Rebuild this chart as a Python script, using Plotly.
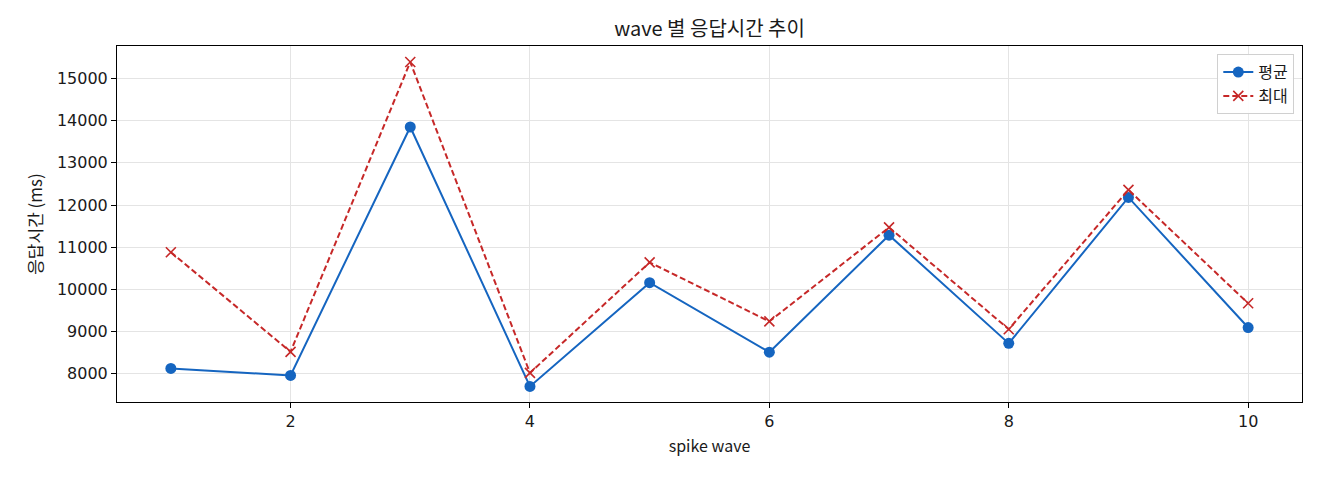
import plotly.graph_objects as go

waves = [1, 2, 3, 4, 5, 6, 7, 8, 9, 10]
avg_ms = [8125, 7960, 13850, 7700, 10160, 8510, 11285, 8720, 12180, 9095]
max_ms = [10880, 8520, 15390, 8020, 10640, 9240, 11470, 9055, 12360, 9670]

KR = "Noto Sans CJK KR"
NUM = "DejaVu Sans"

fig = go.Figure()

fig.add_trace(go.Scatter(
    x=waves, y=avg_ms, mode="lines+markers", name="평균",
    line=dict(color="#1565C0", width=2),
    marker=dict(symbol="circle", size=11, color="#1565C0"),
))
fig.add_trace(go.Scatter(
    x=waves, y=max_ms, mode="lines+markers", name="최대",
    line=dict(color="#C62828", width=2, dash="6px,3px"),
    marker=dict(symbol="x-thin", size=10, line=dict(color="#C62828", width=1.6)),
))

axis = dict(
    showline=True, linecolor="black", linewidth=1, mirror=True,
    ticks="outside", ticklen=5, tickcolor="black",
    showgrid=True, gridcolor="#e4e4e4", gridwidth=1,
    zeroline=False, tickfont=dict(family=NUM, size=16, color="#1a1a1a"),
)

# the page body adds ~8px offset, so margins are shifted to compensate
fig.update_layout(
    width=1320, height=480,
    paper_bgcolor="white", plot_bgcolor="white",
    font=dict(family=KR, color="#1a1a1a"),
    margin=dict(l=109, r=26, t=38, b=86),
    title=dict(text="wave 별 응답시간 추이", x=0.5, xref="paper", xanchor="center",
               y=1 - 21 / 480, yref="container", yanchor="middle",
               font=dict(size=20, color="#1a1a1a")),
    xaxis=dict(axis, range=[0.55, 10.45], tickvals=[2, 4, 6, 8, 10],
               title=dict(text="spike wave", font=dict(size=16), standoff=10)),
    yaxis=dict(axis, range=[7330, 15770], dtick=1000, tickformat="d",
               title=dict(text="응답시간 (ms)", font=dict(size=17), standoff=9)),
    legend=dict(x=0.9935, y=0.977, xanchor="right", yanchor="top",
                bgcolor="rgba(255,255,255,0.9)", bordercolor="#d0d0d0", borderwidth=1,
                font=dict(size=16), tracegroupgap=6),
    showlegend=True,
)

fig.write_html("out.html")
